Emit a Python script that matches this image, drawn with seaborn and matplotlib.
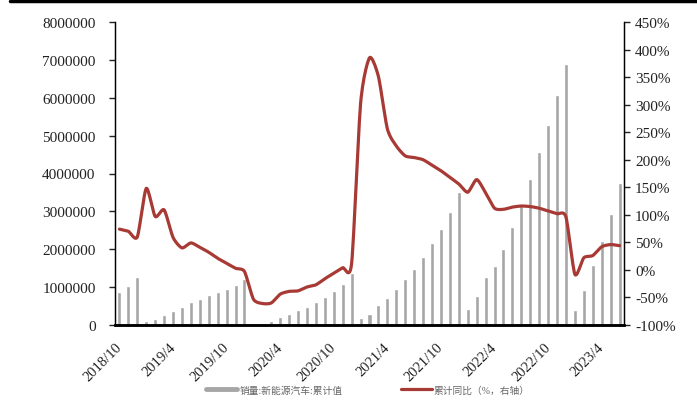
import numpy as np
import pandas as pd
import matplotlib
matplotlib.use('Agg')
import matplotlib.pyplot as plt
from matplotlib.lines import Line2D
import seaborn as sns

# months 2018/10 .. 2023/6
months = pd.date_range('2018-10-01', '2023-06-01', freq='MS').strftime('%Y/%-m').tolist()

# cumulative NEV sales (units)
sales = [860000, 1030000, 1256000,
         96000, 149000, 270000, 368000, 472000, 617000, 697000, 782000, 872000, 947000, 1043000, 1206000,
         44000, 57000, 114000, 202000, 284000, 393000, 486000, 595000, 732000, 892000, 1092000, 1367000,
         179000, 290000, 515000, 721000, 938000, 1206000, 1478000, 1799000, 2157000, 2540000, 2990000, 3521000,
         431000, 765000, 1257000, 1557000, 2003000, 2600000, 3194000, 3860000, 4567000, 5280000, 6068000, 6887000,
         408000, 933000, 1586000, 2222000, 2940000, 3747000]

# cumulative YoY growth (%)
yoy = [74, 70, 60,
       148, 97, 109, 59, 40, 49, 41, 32, 21, 12, 3, -3,
       -53, -61, -60, -44, -39, -38, -31, -27, -16, -6, 4, 12,
       302, 385, 351, 256, 225, 207, 204, 200, 190, 180, 168, 156,
       141, 164, 140, 112, 110, 114, 116, 115, 112, 107, 102, 96,
       -8, 22, 26, 42, 46, 44]

tick_labels = ['2018/10', '2019/4', '2019/10', '2020/4', '2020/10',
               '2021/4', '2021/10', '2022/4', '2022/10', '2023/4']

bar_label = '销量:新能源汽车:累计值'
line_label = '累计同比（%，右轴）'


def smooth(x, y, n=12, tension=0.3):
    # cardinal spline through the points, like a "smoothed line" chart
    x = np.asarray(x, float)
    y = np.asarray(y, float)
    px = np.concatenate([[2 * x[0] - x[1]], x, [2 * x[-1] - x[-2]]])
    py = np.concatenate([[2 * y[0] - y[1]], y, [2 * y[-1] - y[-2]]])
    s = (1 - tension) / 2
    t = np.linspace(0, 1, n, endpoint=False)
    h00 = 2 * t ** 3 - 3 * t ** 2 + 1
    h10 = t ** 3 - 2 * t ** 2 + t
    h01 = -2 * t ** 3 + 3 * t ** 2
    h11 = t ** 3 - t ** 2
    xs, ys = [], []
    for i in range(1, len(px) - 2):
        for arr, out in ((px, xs), (py, ys)):
            m1 = s * (arr[i + 1] - arr[i - 1])
            m2 = s * (arr[i + 2] - arr[i])
            out.extend(h00 * arr[i] + h10 * m1 + h01 * arr[i + 1] + h11 * m2)
    xs.append(x[-1])
    ys.append(y[-1])
    return np.array(xs), np.array(ys)


df = pd.DataFrame({'month': months, 'sales': sales, 'yoy': yoy})
df['pos'] = np.arange(len(df))

sns.set_style('white')
plt.rcParams['font.family'] = ['Liberation Serif', 'Noto Sans CJK SC', 'DejaVu Sans']
plt.rcParams['axes.unicode_minus'] = True

fig = plt.figure(figsize=(6.97, 4.14), dpi=100)
ax = fig.add_axes([115 / 697, 1 - 326 / 414, (624 - 115) / 697, (326 - 23) / 414])

sns.barplot(data=df, x='pos', y='sales', color='#A6A6A6', width=0.45,
            saturation=1, ax=ax, native_scale=True)

ax2 = ax.twinx()
sx, sy = smooth(df['pos'], df['yoy'])
sns.lineplot(x=sx, y=sy, color='#A83A35', linewidth=2.3, ax=ax2, sort=False)

ax.set_xlim(-0.5, len(df) - 0.5)
ax.set_ylim(0, 8000000)
ax2.set_ylim(-100, 450)

ax.set_yticks(np.arange(0, 8000001, 1000000))
ax.set_yticklabels([f'{v:d}' for v in range(0, 8000001, 1000000)])
ax2.set_yticks(np.arange(-100, 451, 50))
ax2.set_yticklabels([f'{v}%' for v in range(-100, 451, 50)])

ax.set_xticks(np.arange(len(tick_labels)) * 6 - 0.5)
ax.set_xticklabels(tick_labels, rotation=45, ha='right', va='top',
                   rotation_mode='anchor')
ax.set_xlabel('')
ax.set_ylabel('')
ax2.set_ylabel('')

for a in (ax, ax2):
    a.tick_params(axis='both', labelsize=11, colors='#222222', length=4, width=1,
                  direction='out', pad=5)
    a.spines['top'].set_visible(False)
    a.grid(False)
ax.tick_params(axis='x', labelsize=10.5, length=5, width=1.5, pad=6)
ax.tick_params(axis='y', left=True, right=False, pad=10)
ax2.tick_params(axis='y', right=True, left=False, pad=4)
ax.spines['bottom'].set_linewidth(1.8)
ax2.spines['bottom'].set_linewidth(1.8)
for a in (ax, ax2):
    a.spines['left'].set_linewidth(0.9)
    a.spines['right'].set_linewidth(0.9)
    a.spines['left'].set_color('black')
    a.spines['right'].set_color('black')
    a.spines['bottom'].set_color('black')

handles = [Line2D([0], [0], color='#A6A6A6', linewidth=3.5),
           Line2D([0], [0], color='#A83A35', linewidth=2.3)]
fig.legend(handles, [bar_label, line_label], loc='center',
           bbox_to_anchor=(0.528, 1 - 391 / 414), ncol=2, frameon=False,
           fontsize=7, handlelength=3.2, handletextpad=0.2, columnspacing=6,
           labelcolor='#666666')

# top border of the image
fig.add_artist(Line2D([10 / 697, 1], [1 - 1.5 / 414, 1 - 1.5 / 414],
                      color='black', linewidth=2.5, transform=fig.transFigure))

fig.savefig('out.png', dpi=100)
